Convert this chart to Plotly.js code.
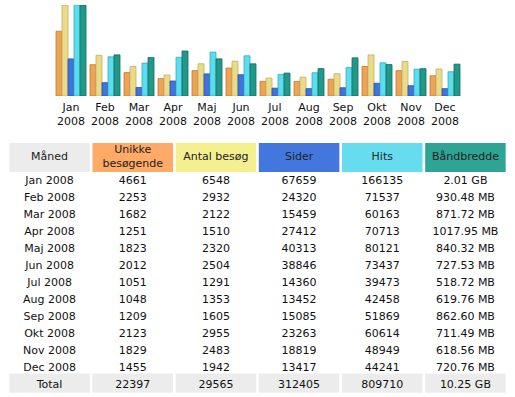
<!DOCTYPE html>
<html>
<head>
<meta charset="utf-8">
<script src="https://cdn.plot.ly/plotly-3.0.1.min.js"></script>
<style>html,body{margin:0;padding:0;background:#fff;}#chart{width:515px;height:397px;}</style>
</head>
<body>
<div id="chart"></div>
<script>
var months = ["Jan","Feb","Mar","Apr","Maj","Jun","Jul","Aug","Sep","Okt","Nov","Dec"];
var year = "2008";
var uniqueVisitors = [4661,2253,1682,1251,1823,2012,1051,1048,1209,2123,1829,1455];
var visits = [6548,2932,2122,1510,2320,2504,1291,1353,1605,2955,2483,1942];
var pages = [67659,24320,15459,27412,40313,38846,14360,13452,15085,23263,18819,13417];
var hits = [166135,71537,60163,70713,80121,73437,39473,42458,51869,60614,48949,44241];
var bandwidthMB = [2058.24,930.48,871.72,1017.95,840.32,727.53,518.72,619.76,862.60,711.49,618.56,720.76];
var bandwidthText = ["2.01 GB","930.48 MB","871.72 MB","1017.95 MB","840.32 MB","727.53 MB","518.72 MB","619.76 MB","862.60 MB","711.49 MB","618.56 MB","720.76 MB"];
var headers = ["Måned","Unikke<br>besøgende","Antal besøg","Sider","Hits","Båndbredde"];
var headerColors = ["#ECECEC","#FFAA66","#F4F090","#4477DD","#66DDEE","#2EA495"];
var totals = ["Total","22397","29565","312405","809710","10.25 GB"];

var W = 515, H = 397;
var font = "DejaVu Sans, Verdana, sans-serif";
var bw = 6/34;
function off(i){ return -2.5*bw + i*bw; }

var series = [
  {y: uniqueVisitors, axis: "y",  color: "#EEA456", line: "#C07A30"},
  {y: visits,         axis: "y",  color: "#EADB8A", line: "#C2B060"},
  {y: pages,          axis: "y2", color: "#4272DC", line: "#2A50B0"},
  {y: hits,           axis: "y2", color: "#5CDCEC", line: "#30AFC0"},
  {y: bandwidthMB,    axis: "y3", color: "#22988A", line: "#10705F"}
];
var traces = series.map(function(s, i){
  return {type: "bar", x: months, y: s.y, yaxis: s.axis, width: bw, offset: off(i),
          marker: {color: s.color, line: {color: s.line, width: 0.8}},
          hoverinfo: "skip", showlegend: false};
});

// table body
var rowLabels = months.map(function(m){ return m + " " + year; });
var cols = [rowLabels, uniqueVisitors.map(String), visits.map(String), pages.map(String), hits.map(String), bandwidthText];
var cellValues = cols.map(function(c, j){ return c.concat([totals[j]]); });
cellValues.forEach(function(col, j){
  traces.push({type: "scatter", mode: "text", xaxis: "x2", yaxis: "y4",
    x: col.map(function(){ return j; }), y: col.map(function(v, r){ return r; }),
    text: col, textposition: "middle center", cliponaxis: false,
    textfont: {family: font, size: 11, color: "#111"}, hoverinfo: "skip", showlegend: false});
});
// header
traces.push({type: "scatter", mode: "text", xaxis: "x2", yaxis: "y5",
  x: headers.map(function(h, j){ return j; }), y: headers.map(function(){ return 0; }),
  text: headers, textposition: "middle center", cliponaxis: false,
  textfont: {family: font, size: 11, color: "#222"}, hoverinfo: "skip", showlegend: false});

var g = 0.016;
var shapes = [];
headers.forEach(function(h, j){
  shapes.push({type: "rect", xref: "x2", yref: "y5", x0: j-0.5+g, x1: j+0.5-g, y0: -0.5, y1: 0.5,
    fillcolor: headerColors[j], line: {width: 0}, layer: "below"});
  shapes.push({type: "rect", xref: "x2", yref: "y4", x0: j-0.5+g, x1: j+0.5-g, y0: 11.3, y1: 12.42,
    fillcolor: "#ECECEC", line: {width: 0}, layer: "below"});
});

var yDom = [1 - 96/H, 1 - 5/H];
var hidden = {visible: false, fixedrange: true, showgrid: false, zeroline: false};
var layout = {
  width: W, height: H,
  margin: {l: 0, r: 0, t: 0, b: 0},
  paper_bgcolor: "#fff", plot_bgcolor: "rgba(0,0,0,0)",
  barmode: "overlay",
  showlegend: false,
  shapes: shapes,
  xaxis: {domain: [54/W, 462/W], range: [-0.5, 11.5], type: "category",
          tickmode: "array", tickvals: months,
          ticktext: months.map(function(m){ return m + "<br>" + year; }),
          tickfont: {family: font, size: 11, color: "#111"}, ticklabelstandoff: 3,
          showgrid: false, zeroline: false, showline: false, ticks: "", fixedrange: true},
  yaxis: Object.assign({domain: yDom, range: [0, Math.max.apply(null, visits)]}, hidden),
  yaxis2: Object.assign({overlaying: "y", range: [0, Math.max.apply(null, hits)]}, hidden),
  yaxis3: Object.assign({overlaying: "y", range: [0, Math.max.apply(null, bandwidthMB)]}, hidden),
  xaxis2: Object.assign({domain: [8/W, 507/W], range: [-0.5, 5.5], anchor: "y4"}, hidden),
  yaxis4: Object.assign({domain: [1 - 394/H, 1 - 173/H], range: [12.5, -0.5], anchor: "x2"}, hidden),
  yaxis5: Object.assign({domain: [1 - 172/H, 1 - 143/H], range: [-0.5, 0.5], anchor: "x2"}, hidden)
};
Plotly.newPlot("chart", traces, layout, {displayModeBar: false, staticPlot: true});
</script>
</body>
</html>
